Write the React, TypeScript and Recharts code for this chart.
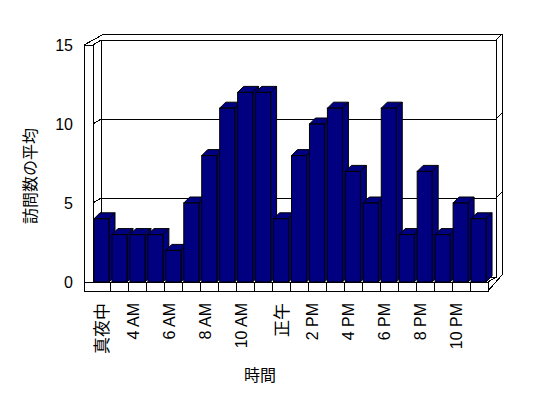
import React from 'react';
import { BarChart, Bar, XAxis, YAxis } from 'recharts';

// hours shown on the x axis (every other one gets a label)
const hours = [
  '真夜中', '2 AM', '4 AM', '5 AM', '6 AM', '7 AM', '8 AM', '9 AM', '10 AM', '11 AM',
  '正午', '1 PM', '2 PM', '3 PM', '4 PM', '5 PM', '6 PM', '7 PM', '8 PM', '9 PM', '10 PM', '11 PM',
];
const visits = [4, 3, 3, 3, 2, 5, 8, 11, 12, 12, 4, 8, 10, 11, 7, 5, 11, 3, 7, 3, 5, 4];
const yTicks = [0, 5, 10, 15];

const data = hours.map((hour, i) => ({ hour, value: visits[i] }));

const W = 540;
const H = 390;
const MARGIN = { top: 37, right: 60, bottom: 16, left: 20 };
const Y_AXIS_W = 65;
const X_AXIS_H = 100;

// plot area on the front plane
const FL = MARGIN.left + Y_AXIS_W;
const FR = W - MARGIN.right;
const FT = MARGIN.top;
const FB = H - MARGIN.bottom - X_AXIS_H;

const WALL = 9; // side wall / floor slab thickness
const BACK = { dx: 8, dy: -5 }; // front plane -> back wall
const SLAB = { dx: 6, dy: -6 }; // back wall thickness
const DEPTH = 6; // bar depth

const NAVY = '#000080';
const FONT = '"Liberation Sans", Arial, sans-serif';
const CJK = '"Noto Sans CJK JP", sans-serif';

const yAt = (v: number) => FB - ((FB - FT) * v) / 15;

const Frame = () => {
  const bl = FL + BACK.dx;
  const br = FR + BACK.dx;
  const bt = FT + BACK.dy;
  const bb = FB + BACK.dy;
  const wo = FL - WALL;
  const fb2 = FB + WALL;
  const step = (FR - FL) / hours.length;
  const ln = { stroke: '#000', strokeWidth: 1, fill: 'none' };
  return (
    <g shapeRendering="crispEdges">
      {/* back wall */}
      <rect x={bl} y={bt} width={br - bl} height={bb - bt} fill="#fff" {...{ stroke: '#000' }} />
      <polyline points={`${bl + SLAB.dx - 3},${bt + SLAB.dy} ${br + SLAB.dx},${bt + SLAB.dy} ${br + SLAB.dx},${bb + SLAB.dy + 4}`} {...ln} />
      <line x1={br} y1={bt} x2={br + SLAB.dx} y2={bt + SLAB.dy} {...ln} />
      {yTicks.filter((v) => v > 0 && v < 15).map((v) => (
        <g key={v}>
          <line x1={bl} y1={yAt(v) + BACK.dy} x2={br} y2={yAt(v) + BACK.dy} {...ln} />
          <line x1={br} y1={yAt(v) + BACK.dy} x2={br + SLAB.dx} y2={yAt(v) + BACK.dy + SLAB.dy} {...ln} />
          <line x1={wo} y1={yAt(v)} x2={FL} y2={yAt(v)} {...ln} />
          <line x1={FL} y1={yAt(v)} x2={bl} y2={yAt(v) + BACK.dy} {...ln} />
        </g>
      ))}
      {/* left wall */}
      <rect x={wo} y={FT} width={WALL} height={fb2 - FT} fill="#fff" stroke="#000" />
      <line x1={wo} y1={FT} x2={bl + SLAB.dx - 3} y2={bt + SLAB.dy} {...ln} />
      <line x1={FL} y1={FT} x2={bl} y2={bt} {...ln} />
      {/* floor */}
      <rect x={wo} y={FB} width={FR - wo} height={WALL} fill="#fff" stroke="#000" />
      {hours.map((h, i) => (i > 0 ? (
        <line key={h} x1={FL + step * i} y1={FB} x2={FL + step * i} y2={fb2} {...ln} />
      ) : null))}
      <line x1={FR} y1={fb2} x2={br + SLAB.dx} y2={bb + SLAB.dy + 4} {...ln} />
      <line x1={FR} y1={FB} x2={br} y2={bb} {...ln} />
      {/* axis titles */}
      <text x={28} y={168} transform="rotate(-90 28 168)" textAnchor="middle" fontFamily={CJK} fontSize={16} fill="#000">
        訪問数の平均
      </text>
      <text x={252} y={373} textAnchor="middle" fontFamily={CJK} fontSize={16} fill="#000">
        時間
      </text>
    </g>
  );
};

const Bar3D = (props: any) => {
  const { x, y, width, height } = props;
  if (!height) return null;
  const d = DEPTH;
  return (
    <g stroke="#000" strokeWidth={1} fill={NAVY} strokeLinejoin="miter">
      <polygon points={`${x},${y} ${x + d},${y - d} ${x + width + d},${y - d} ${x + width},${y}`} />
      <polygon points={`${x + width},${y} ${x + width + d},${y - d} ${x + width + d},${y + height - d} ${x + width},${y + height}`} />
      <rect x={x} y={y} width={width} height={height} />
    </g>
  );
};

const XTick = (props: any) => {
  const { x, payload } = props;
  const label = String(payload.value);
  const cjk = /[^\x00-\x7F]/.test(label);
  const y = FB + 21;
  return (
    <text
      x={x}
      y={y}
      dy={cjk ? 6 : 1}
      transform={`rotate(-90 ${x} ${y})`}
      textAnchor="end"
      fontFamily={cjk ? CJK : FONT}
      fontSize={cjk ? 17 : 16}
      fill="#000"
    >
      {label}
    </text>
  );
};

const YTick = (props: any) => {
  const { y, payload } = props;
  return (
    <text x={FL - 20} y={y} dy={6} textAnchor="end" fontFamily={FONT} fontSize={16} fill="#000">
      {payload.value}
    </text>
  );
};

const App: React.FC = () => {
  return (
    <BarChart width={W} height={H} data={data} margin={MARGIN} barSize={15}>
      <Frame />
      <XAxis
        dataKey="hour"
        height={X_AXIS_H}
        interval={1}
        axisLine={false}
        tickLine={false}
        tick={<XTick />}
      />
      <YAxis
        width={Y_AXIS_W}
        domain={[0, 15]}
        ticks={yTicks}
        axisLine={false}
        tickLine={false}
        tick={<YTick />}
      />
      <Bar dataKey="value" fill={NAVY} shape={<Bar3D />} isAnimationActive={false} />
    </BarChart>
  );
};

export default App;
